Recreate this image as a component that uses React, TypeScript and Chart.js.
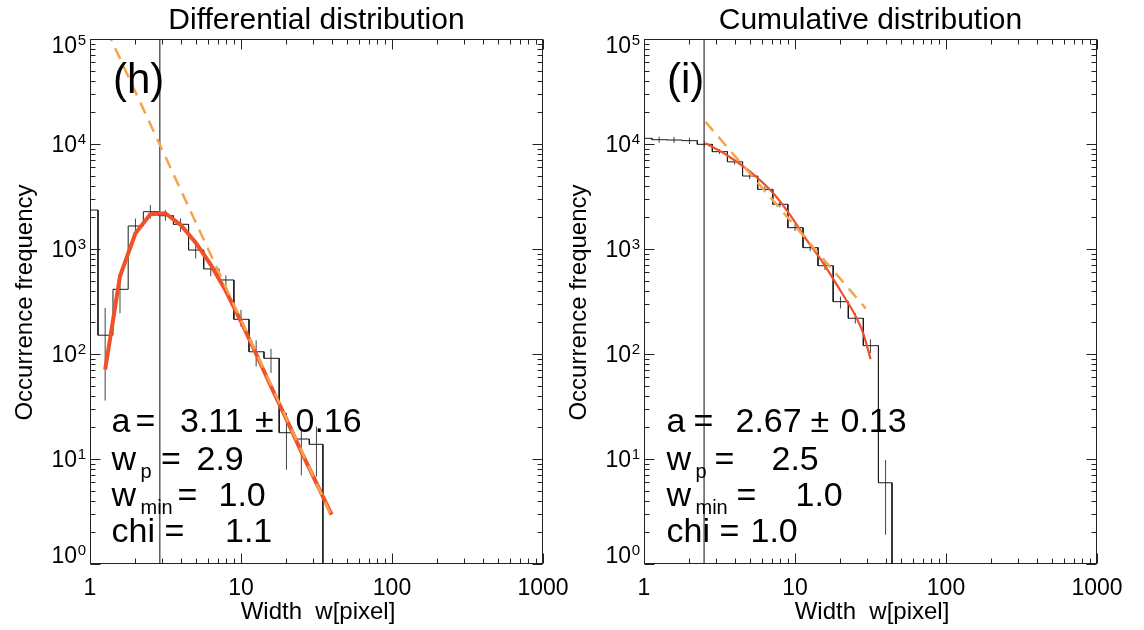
import React, { useEffect, useRef } from "react";
import { Chart, registerables } from "chart.js";

Chart.register(...registerables);

// ---------- data ----------
const diffCenters = [1.0, 1.26, 1.58, 2.0, 2.51, 3.16, 3.98, 5.01, 6.31, 7.94, 10.0, 12.6, 15.8, 20.0, 25.1, 31.6];
const diffCounts = [2350, 151, 413, 1656, 2265, 2075, 1718, 977, 646, 507, 214, 105, 91, 17.8, 15.5, 13.8];
const diffErrLow = [2300, 36, 245, 1462, 1950, 1862, 1462, 813, 550, 407, 182, 76, 66, 7.9, 7.0, 6.8];
const diffErrHigh = [2400, 275, 507, 1950, 2630, 2344, 1950, 1096, 724, 562, 263, 135, 112, 27.5, 18.9, 20.4];
const diffFitW = [1.26, 1.58, 2.0, 2.51, 3.16, 3.98, 5.01, 6.31, 7.94, 10.0, 12.6, 15.8, 20.0, 25.1, 31.6, 39.8];
const diffFitN = [71, 550, 1413, 2140, 2190, 1700, 1150, 708, 398, 204, 100, 49, 24, 11.7, 5.9, 2.95];
const diffPowerW = [1.0, 39.8];
const diffPowerN = [270000, 2.86];

const cumCenters = [1.0, 1.26, 1.58, 2.0, 2.51, 3.16, 3.98, 5.01, 6.31, 7.94, 10.0, 12.6, 15.8, 20.0, 25.1, 31.6, 39.8];
const cumCounts = [11320, 10990, 10910, 10760, 9930, 8450, 6760, 4955, 3698, 2667, 1596, 1030, 693, 315, 219, 120, 5.94];
const cumErrLow = [10700, 10300, 10230, 10000, 9230, 8035, 6380, 4620, 3467, 2495, 1486, 955, 631, 272, 195, 102, 1.9];
const cumErrHigh = [12000, 11750, 11700, 11480, 10720, 8910, 7160, 5250, 3940, 2864, 1718, 1122, 759, 352, 245, 138, 9.8];
const cumFitW = [2.55, 3.53, 5.04, 7.18, 9.27, 11.94, 15.42, 19.86, 25.64, 28.3, 31.7];
const cumFitN = [10160, 7850, 5445, 3388, 2109, 1219, 731, 407, 219, 157, 89];
const cumPowerW = [2.55, 29.4];
const cumPowerN = [16300, 272];

const wpValues = [2.9, 2.5];
const xTickValues = [1, 10, 100, 1000];
const yTickExponents = [0, 1, 2, 3, 4, 5];
const panelTitles = ["Differential distribution", "Cumulative distribution"];
const panelLetters = ["(h)", "(i)"];
const slopeTexts = ["3.11", "2.67"];
const slopeErrTexts = ["0.16", "0.13"];
const wpTexts = ["2.9", "2.5"];
const wminTexts = ["1.0", "1.0"];
const chiTexts = ["1.1", "1.0"];
const yAxisTitle = "Occurrence frequency";
const xAxisTitle = "Width  w[pixel]";

// ---------- styling / layout ----------
const FONT = "'Liberation Sans', Arial, Helvetica, sans-serif";
const SOLID = "#EF5128";
const DASHED = "#F6A44A";
const CANVAS_LEFT = [0, 540];
const CANVAS_WIDTH = [572, 604];

type Seg = [string, number, number, number]; // text, absolute x, dy, size

function stepPoints(c: number[], v: number[], floor: number) {
  const n = c.length;
  const edge = (i: number) =>
    i === 0 ? c[0] - (c[1] - c[0]) / 2 : i === n ? c[n - 1] + (c[n - 1] - c[n - 2]) / 2 : (c[i - 1] + c[i]) / 2;
  const pts: { x: number; y: number | null }[] = [];
  for (let i = 0; i < n; i++) {
    pts.push({ x: edge(i), y: v[i] });
    pts.push({ x: edge(i + 1), y: v[i] });
  }
  pts.push({ x: edge(n), y: floor });
  return pts;
}

function errPoints(c: number[], lo: number[], hi: number[]) {
  const pts: { x: number; y: number | null }[] = [];
  c.forEach((x, i) => {
    pts.push({ x, y: lo[i] }, { x, y: hi[i] }, { x, y: null });
  });
  return pts;
}

function zip(xs: number[], ys: number[]) {
  return xs.map((x, i) => ({ x, y: ys[i] }));
}

function txt(ctx: CanvasRenderingContext2D, s: string, x: number, y: number, size: number, align: CanvasTextAlign = "left") {
  ctx.font = `${size}px ${FONT}`;
  ctx.textAlign = align;
  ctx.textBaseline = "alphabetic";
  ctx.fillStyle = "#000";
  ctx.fillText(s, x, y);
}

function makePlugin(idx: number, offset: number, annot: Seg[][]) {
  return {
    id: "panelDecor" + idx,
    afterDraw(chart: any) {
      const ctx: CanvasRenderingContext2D = chart.ctx;
      const a = chart.chartArea;
      const xs = chart.scales.x;
      const ys = chart.scales.y;
      ctx.save();
      // frame
      ctx.strokeStyle = "#222";
      ctx.lineWidth = 1;
      const L = Math.round(a.left) + 0.5;
      const R = Math.round(a.right) - 0.5;
      const T = Math.round(a.top) + 0.5;
      const B = Math.round(a.bottom) - 0.5;
      ctx.strokeRect(L, T, R - L, B - T);
      // ticks (inside, all four sides)
      ctx.beginPath();
      for (let e = 0; e <= 3; e++) {
        for (let m = 1; m <= 9; m++) {
          const v = m * Math.pow(10, e);
          if (v > 1000) continue;
          const px = Math.round(xs.getPixelForValue(v)) + 0.5;
          const len = m === 1 ? 10 : 5;
          ctx.moveTo(px, B);
          ctx.lineTo(px, B - len);
          ctx.moveTo(px, T);
          ctx.lineTo(px, T + len);
        }
      }
      for (let e = 0; e <= 5; e++) {
        for (let m = 1; m <= 9; m++) {
          const v = m * Math.pow(10, e);
          if (v > 1e5) continue;
          const py = Math.round(ys.getPixelForValue(v)) + 0.5;
          const len = m === 1 ? 10 : 5;
          ctx.moveTo(L, py);
          ctx.lineTo(L + len, py);
          ctx.moveTo(R, py);
          ctx.lineTo(R - len, py);
        }
      }
      ctx.stroke();
      // x tick labels
      xTickValues.forEach((v) => txt(ctx, String(v), xs.getPixelForValue(v), 595, 23, "center"));
      // y tick labels
      yTickExponents.forEach((e) => {
        const py = ys.getPixelForValue(Math.pow(10, e));
        const base = e === 5 ? py + 14 : e === 0 ? py - 1 : py + 8;
        const expStr = String(e);
        ctx.font = `15px ${FONT}`;
        const w = ctx.measureText(expStr).width;
        txt(ctx, expStr, a.left - 4, base - 8.5, 15, "right");
        txt(ctx, "10", a.left - 4 - w - 0.5, base, 23, "right");
      });
      // titles
      const cx = (a.left + a.right) / 2;
      txt(ctx, panelTitles[idx], cx, 28.5, 30, "center");
      txt(ctx, xAxisTitle, cx + 1.5, 619, 24, "center");
      ctx.save();
      ctx.translate(32 + idx * 554 - offset, 302.5);
      ctx.rotate(-Math.PI / 2);
      txt(ctx, yAxisTitle, 0, 0, 24, "center");
      ctx.restore();
      // panel letter
      txt(ctx, panelLetters[idx], a.left + 23, 93, 42, "left");
      // annotations
      const baselines = [432, 470, 506, 542];
      annot.forEach((line, li) => {
        line.forEach(([s, x, dy, size]) => txt(ctx, s, x - offset - 1.5, baselines[li] + dy, size, "left"));
      });
      ctx.restore();
    },
  };
}

function makeConfig(idx: number) {
  const isDiff = idx === 0;
  const centers = isDiff ? diffCenters : cumCenters;
  const counts = isDiff ? diffCounts : cumCounts;
  const lo = isDiff ? diffErrLow : cumErrLow;
  const hi = isDiff ? diffErrHigh : cumErrHigh;
  const fit = isDiff ? zip(diffFitW, diffFitN) : zip(cumFitW, cumFitN);
  const pow = isDiff ? zip(diffPowerW, diffPowerN) : zip(cumPowerW, cumPowerN);
  const wp = wpValues[idx];
  const offset = CANVAS_LEFT[idx];
  const annot: Seg[][] = isDiff
    ? [
        [["a", 113, 0, 34], ["=", 137, 0, 34], [slopeTexts[0], 181.5, 0, 34], ["±", 256.5, 0, 34], [slopeErrTexts[0], 297, 0, 34]],
        [["w", 113, 0, 34], ["p", 142, 8, 20], ["=", 162.5, 0, 34], [wpTexts[0], 198, 0, 34]],
        [["w", 113, 0, 34], ["min", 142, 8, 20], ["=", 179, 0, 34], [wminTexts[0], 220, 0, 34]],
        [["chi", 113, 0, 34], ["=", 166, 0, 34], [chiTexts[0], 226.5, 0, 34]],
      ]
    : [
        [["a", 668, 0, 34], ["=", 695, 0, 34], [slopeTexts[1], 737, 0, 34], ["±", 812, 0, 34], [slopeErrTexts[1], 842, 0, 34]],
        [["w", 668, 0, 34], ["p", 697, 8, 20], ["=", 716, 0, 34], [wpTexts[1], 773, 0, 34]],
        [["w", 668, 0, 34], ["min", 697, 8, 20], ["=", 738, 0, 34], [wminTexts[1], 797, 0, 34]],
        [["chi", 668, 0, 34], ["=", 721, 0, 34], [chiTexts[1], 752, 0, 34]],
      ];
  const plotLeft = isDiff ? 90 : 644;
  const plotRight = isDiff ? 543 : 1097;
  const padding = {
    left: plotLeft - offset,
    top: 39,
    right: offset + CANVAS_WIDTH[idx] - plotRight,
    bottom: 66,
  };
  return {
    type: "line" as const,
    data: {
      datasets: [
        {
          data: pow,
          borderColor: DASHED,
          borderWidth: 2.5,
          borderDash: [12, 8],
          pointRadius: 0,
          order: 0,
          clip: 0,
        },
        {
          data: fit,
          borderColor: SOLID,
          borderWidth: isDiff ? 4 : 2.2,
          pointRadius: 0,
          order: 1,
          clip: 0,
          cubicInterpolationMode: isDiff ? "default" : "monotone",
          borderJoinStyle: "round",
        },
        {
          data: stepPoints(centers, counts, 0.5),
          borderColor: "#1a1a1a",
          borderWidth: 1,
          pointRadius: 0,
          order: 2,
          clip: 0,
        },
        {
          data: errPoints(centers, lo, hi),
          borderColor: "#444",
          borderWidth: 1,
          pointRadius: 0,
          spanGaps: false,
          order: 3,
          clip: 0,
        },
        {
          data: [
            { x: wp, y: 1 },
            { x: wp, y: 1e5 },
          ],
          borderColor: "#444",
          borderWidth: 1.3,
          pointRadius: 0,
          order: 4,
          clip: 0,
        },
      ],
    },
    options: {
      animation: false,
      responsive: false,
      events: [],
      layout: { padding },
      elements: { line: { tension: 0 }, point: { radius: 0 } },
      plugins: { legend: { display: false }, tooltip: { enabled: false }, title: { display: false } },
      scales: {
        x: { type: "logarithmic", min: 1, max: 1000, display: false },
        y: { type: "logarithmic", min: 1, max: 1e5, display: false },
      },
    },
    plugins: [makePlugin(idx, offset, annot)],
  };
}

function Panel({ idx }: { idx: number }) {
  const ref = useRef<HTMLCanvasElement | null>(null);
  useEffect(() => {
    if (!ref.current) return;
    const chart = new Chart(ref.current, makeConfig(idx) as any);
    return () => chart.destroy();
  }, [idx]);
  return (
    <canvas
      ref={ref}
      width={CANVAS_WIDTH[idx]}
      height={630}
      style={{ position: "absolute", left: CANVAS_LEFT[idx], top: 0, width: CANVAS_WIDTH[idx], height: 630 }}
    />
  );
}

export default function App() {
  return (
    <div style={{ position: "absolute", left: 0, top: 0, width: 1144, height: 630, background: "#fff", overflow: "hidden" }}>
      <Panel idx={0} />
      <Panel idx={1} />
    </div>
  );
}
